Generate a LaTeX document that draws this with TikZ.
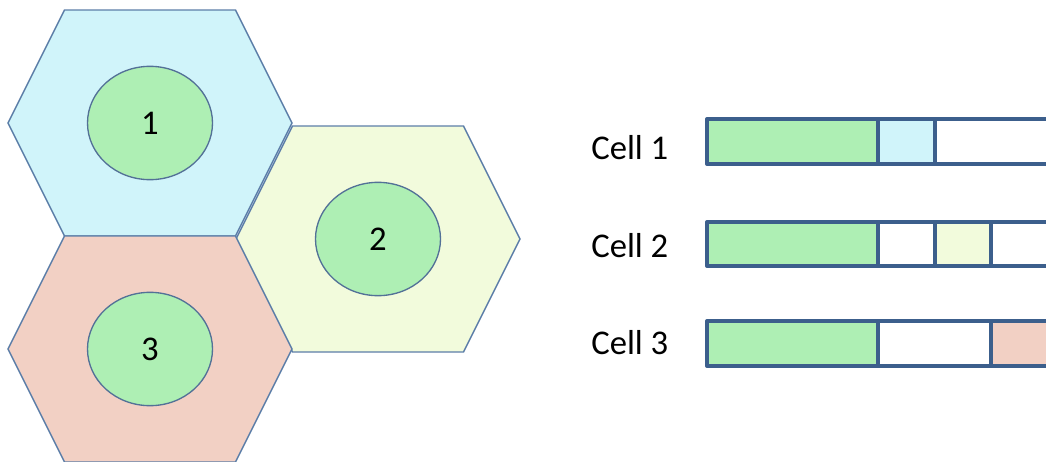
\documentclass[tikz,border=0pt]{standalone}
\usepackage{fontspec}
\setmainfont{Carlito}
\usepackage{tikz}
\usetikzlibrary{shapes.geometric}
\definecolor{hexline}{RGB}{92, 126, 168}
\definecolor{barline}{RGB}{60, 95, 140}
\definecolor{cellblue}{RGB}{208, 244, 250}
\definecolor{cellyellow}{RGB}{242, 251, 220}
\definecolor{cellpink}{RGB}{242, 208, 196}
\definecolor{sharedgreen}{RGB}{174, 239, 180}
\tikzset{
    hexcell/.style={draw=hexline, line width=1.1pt, line join=miter},
    core/.style={ellipse, draw=hexline!90!black, fill=sharedgreen, line width=1pt, minimum width=93.75pt, minimum height=85pt, inner sep=0pt, font=\fontsize{26}{30}\selectfont},
    celltext/.style={anchor=west, inner sep=0pt, font=\fontsize{26}{30}\selectfont},
    frame/.style={draw=barline, line width=3pt, line join=round}
}

\begin{document}
\begin{tikzpicture}[x=0.75pt, y=-0.75pt]
        \useasboundingbox (0,0) rectangle (1046,461);

        % hexagonal cells with their centre areas
        \foreach \num/\cx/\cy/\col in {1/150/123/cellblue, 2/378/239/cellyellow, 3/150/349/cellpink} {
            \draw [hexcell, fill=\col] (\cx-142,\cy) -- (\cx-85.5,\cy-113) -- (\cx+85.5,\cy-113)
                -- (\cx+142,\cy) -- (\cx+85.5,\cy+113) -- (\cx-85.5,\cy+113) -- cycle;
            \node [core] (core\num) at (\cx,\cy) {\num};
        }

        % row labels
        \node [celltext] (name1) at (591,148) {Cell 1};
        \node [celltext] (name2) at (591,246) {Cell 2};
        \node [celltext] (name3) at (591,343) {Cell 3};

        % Cell 1 slots
        \fill [sharedgreen] (707,119) rectangle (878,164);
        \fill [cellblue] (878,119) rectangle (935,164);
        \draw [frame] (1070,119) -- (707,119) -- (707,164) -- (1070,164);
        \draw [frame] (878,119) -- (878,164) (935,119) -- (935,164);

        % Cell 2 slots
        \fill [sharedgreen] (707,222) rectangle (878,266);
        \fill [cellyellow] (935,222) rectangle (991,266);
        \draw [frame] (1070,222) -- (707,222) -- (707,266) -- (1070,266);
        \draw [frame] (878,222) -- (878,266) (935,222) -- (935,266) (991,222) -- (991,266);

        % Cell 3 slots
        \fill [sharedgreen] (707,321) rectangle (878,366);
        \fill [cellpink] (991,321) rectangle (1070,366);
        \draw [frame] (1070,321) -- (707,321) -- (707,366) -- (1070,366);
        \draw [frame] (878,321) -- (878,366) (991,321) -- (991,366);

    \end{tikzpicture}
\end{document}
